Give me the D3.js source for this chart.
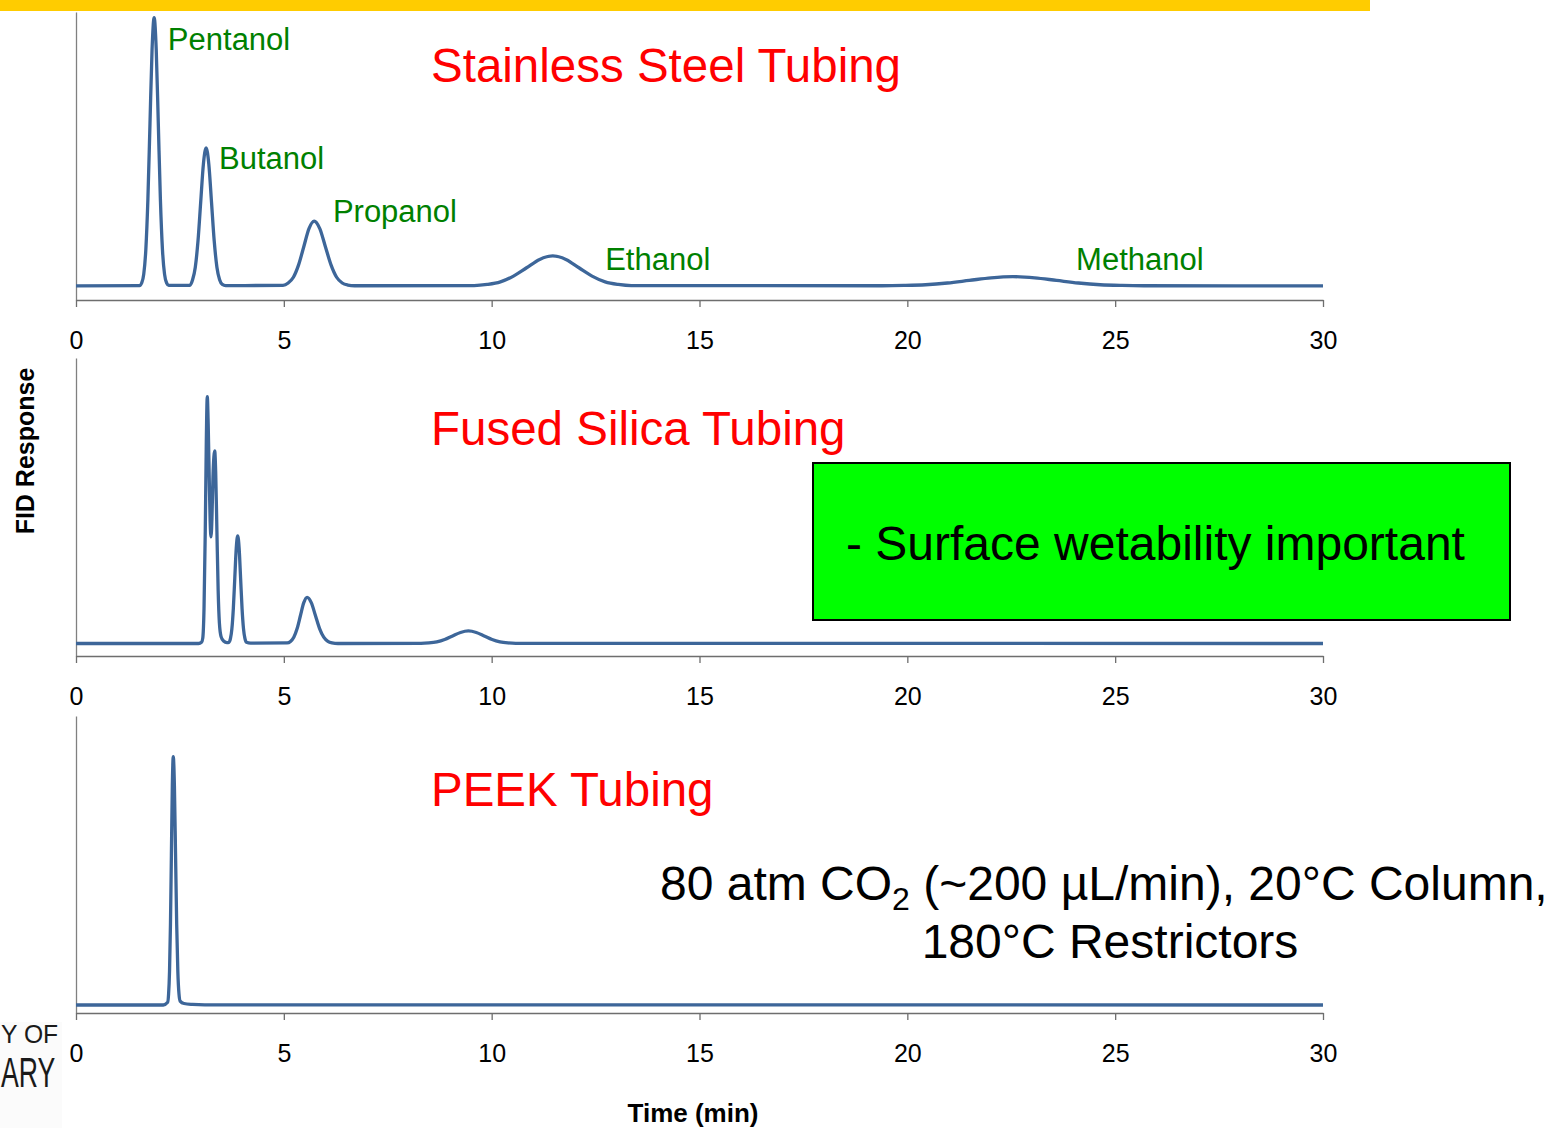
<!doctype html>
<html>
<head>
<script type='text/javascript' src='https://d3js.org/d3.v7.min.js'></script>
<style>
body { margin: 0; background: #fff; }
text { font-family: Arial, 'Liberation Sans', sans-serif; }
</style>
</head>
<body>
<script>
var width = 1548, height = 1128;

// time axis (min)
var timeTicks = [0, 5, 10, 15, 20, 25, 30];

// chromatograms: [time (min), FID response (% of panel height)]
var stainlessSteel = [
 [0,4.9],[1.53,5.0],[1.58,5.9],[1.63,9.0],[1.68,17.5],[1.73,35.1],[1.78,61.3],[1.83,87.0],[1.88,98.0],[1.93,87.0],[1.98,61.3],[2.03,35.1],[2.08,17.5],[2.13,9.0],[2.18,5.9],[2.23,5.1],
 [2.74,5.1],[2.805,7.0],[2.87,11.4],[2.935,20.5],[3.0,34.0],[3.065,47.2],[3.13,52.8],[3.195,47.2],[3.26,34.0],[3.325,20.5],[3.39,11.4],[3.455,7.0],[3.52,5.4],[3.6,5.0],
 [4.98,5.1],[5.105,5.9],[5.23,7.9],[5.355,12.2],[5.48,18.5],[5.605,24.8],[5.73,27.4],[5.865,24.8],[6.0,18.5],[6.135,12.2],[6.27,7.9],[6.405,5.9],[6.54,5.2],[6.7,4.95],
 [9.58,5.0],[9.895,5.4],[10.21,6.3],[10.525,8.3],[10.84,11.2],[11.155,14.1],[11.47,15.3],[11.785,14.1],[12.1,11.2],[12.415,8.3],[12.73,6.3],[13.045,5.4],[13.36,5.0],
 [19.39,4.95],[19.915,5.05],[20.44,5.3],[20.965,5.9],[21.49,6.8],[22.015,7.7],[22.54,8.1],[23.065,7.7],[23.59,6.8],[24.115,5.9],[24.64,5.3],[25.165,5.05],[25.69,4.95],[30,4.9]
];
var fusedSilica = [
 [0,4.2],[2.95,4.2],[3.02,4.6],[3.05,6.0],[3.08,16],[3.11,42],[3.135,72],[3.158,87],[3.18,78],[3.205,60],[3.228,45],[3.248,40],[3.27,46],[3.295,60],[3.318,67],[3.337,68.8],[3.36,62],[3.39,42],[3.42,22],[3.45,11],[3.49,6.5],[3.55,5.0],[3.63,4.5],
 [3.68,4.6],[3.715,5.8],[3.75,9.1],[3.785,15.9],[3.82,26.1],[3.855,36.1],[3.89,40.3],[3.925,36.1],[3.96,26.1],[3.995,15.9],[4.03,9.1],[4.065,5.8],[4.10,4.6],[4.2,4.3],
 [5.08,4.4],[5.16,4.9],[5.24,6.3],[5.32,9.2],[5.40,13.6],[5.48,17.9],[5.56,19.7],[5.66,17.9],[5.76,13.6],[5.86,9.2],[5.96,6.3],[6.06,4.9],[6.16,4.4],[6.3,4.2],
 [8.30,4.25],[8.49,4.4],[8.68,4.77],[8.87,5.56],[9.06,6.75],[9.25,7.9],[9.44,8.4],[9.63,7.9],[9.82,6.75],[10.01,5.56],[10.20,4.77],[10.39,4.4],[10.58,4.25],[30,4.2]
];
var peek = [
 [0,2.7],[2.1,2.7],[2.205,3.6],[2.2275,6.4],[2.25,14.0],[2.2725,29.8],[2.295,53.4],[2.3175,76.5],[2.34,86.3],[2.3675,76.5],[2.395,53.4],[2.4225,29.8],[2.45,14.0],[2.4775,6.4],[2.505,4.0],[2.6,3.2],[2.8,2.9],[3.1,2.75],[30,2.7]
];

var panelTitles = ['Stainless Steel Tubing', 'Fused Silica Tubing', 'PEEK Tubing'];

// peak labels on the stainless steel trace, anchored at [time, response]
var peakNames = ['Pentanol', 'Butanol', 'Propanol', 'Ethanol', 'Methanol'];
var peakLabelAt = [[2.21, 86.8], [3.44, 45.5], [6.18, 27.1], [12.73, 10.5], [24.06, 10.5]];

var svg = d3.select('body').append('svg').attr('width', width).attr('height', height);

// yellow band on top
svg.append('rect').attr('x', 0).attr('y', 0).attr('width', 1370).attr('height', 11).attr('fill', '#ffcc00');

var x = d3.scaleLinear().domain([0, 30]).range([76, 1323]);

var panels = [
 {data: stainlessSteel, top: 12, bottom: 300, titleY: 82},
 {data: fusedSilica, top: 358, bottom: 656, titleY: 445},
 {data: peek, top: 716, bottom: 1013, titleY: 806}
];

panels.forEach(function(p, i) {
 var y = d3.scaleLinear().domain([0, 100]).range([p.bottom, p.top]);
 p.y = y;

 // y axis: plain line
 svg.append('g').attr('transform', 'translate(76,0)')
  .call(d3.axisLeft(y).tickValues([]).tickSizeOuter(0))
  .call(function(g) { g.select('.domain').attr('stroke', '#808080').attr('stroke-width', 1.3); });

 var xa = svg.append('g').attr('transform', 'translate(0,' + p.bottom + ')')
  .call(d3.axisBottom(x).tickValues(timeTicks).tickSize(7).tickSizeOuter(0).tickPadding(24));
 xa.select('.domain').attr('stroke', '#6e6e6e').attr('stroke-width', 1.3);
 xa.selectAll('.tick line').attr('stroke', '#6e6e6e').attr('stroke-width', 1.3);
 xa.selectAll('.tick text').attr('font-size', 25).attr('fill', '#000')
  .style('font-family', 'Arial, "Liberation Sans", sans-serif');

 var line = d3.line()
  .x(function(d) { return x(d[0]); })
  .y(function(d) { return y(d[1]); })
  .curve(d3.curveMonotoneX);

 svg.append('path').datum(p.data)
  .attr('d', line)
  .attr('fill', 'none')
  .attr('stroke', '#3d6699')
  .attr('stroke-width', 3.3)
  .attr('stroke-linejoin', 'round');

 svg.append('text').attr('x', 431).attr('y', p.titleY)
  .attr('font-size', 47.5).attr('fill', '#ff0000')
  .text(panelTitles[i]);
});

// peak names
svg.selectAll('.peak').data(peakNames).join('text')
 .attr('class', 'peak')
 .attr('x', function(d, i) { return x(peakLabelAt[i][0]); })
 .attr('y', function(d, i) { return panels[0].y(peakLabelAt[i][1]); })
 .attr('font-size', 31)
 .attr('fill', '#008000')
 .text(function(d) { return d; });

// axis titles
svg.append('text')
 .attr('transform', 'translate(34,451) rotate(-90)')
 .attr('text-anchor', 'middle')
 .attr('font-size', 25).attr('font-weight', 'bold')
 .text('FID Response');

svg.append('text')
 .attr('x', 693).attr('y', 1122)
 .attr('text-anchor', 'middle')
 .attr('font-size', 26).attr('font-weight', 'bold')
 .text('Time (min)');

// green note box
svg.append('rect').attr('x', 813).attr('y', 463).attr('width', 697).attr('height', 157)
 .attr('fill', '#00ff00').attr('stroke', '#000').attr('stroke-width', 2);
svg.append('text').attr('x', 846).attr('y', 560)
 .attr('font-size', 48).attr('fill', '#000')
 .text('- Surface wetability important');

// conditions
var cond = svg.append('text').attr('x', 660).attr('y', 900).attr('font-size', 48).attr('fill', '#000');
cond.append('tspan').text('80 atm CO');
cond.append('tspan').attr('font-size', 32).attr('dy', 10).text('2');
cond.append('tspan').attr('dy', -10).text(' (~200 \u00b5L/min), 20\u00b0C Column,');
svg.append('text').attr('x', 1110).attr('y', 958).attr('text-anchor', 'middle')
 .attr('font-size', 48).attr('fill', '#000')
 .text('180\u00b0C Restrictors');

// cut-off logo at bottom left
svg.append('rect').attr('x', 0).attr('y', 1022).attr('width', 62).attr('height', 106).attr('fill', '#fbfbfb');
svg.append('text').attr('transform', 'translate(1,1043) scale(0.95,1)')
 .attr('font-size', 26).attr('fill', '#1a1a1a').text('Y OF');
svg.append('text').attr('transform', 'translate(1,1087) scale(0.62,1)')
 .attr('font-size', 43).attr('fill', '#1a1a1a').text('ARY');
</script>
</body>
</html>
